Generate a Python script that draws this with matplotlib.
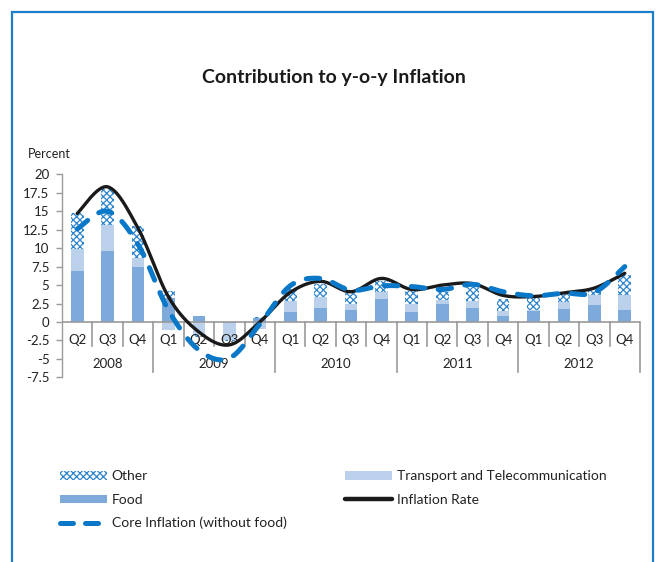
import numpy as np
import matplotlib
matplotlib.use("Agg")
import matplotlib.pyplot as plt
from matplotlib.patches import Rectangle, Patch
from matplotlib.lines import Line2D

# ---------------- data ----------------
quarters = ["Q2", "Q3", "Q4",
            "Q1", "Q2", "Q3", "Q4",
            "Q1", "Q2", "Q3", "Q4",
            "Q1", "Q2", "Q3", "Q4",
            "Q1", "Q2", "Q3", "Q4"]
years = ["2008", "2009", "2010", "2011", "2012"]
year_counts = [3, 4, 4, 4, 4]

food = [6.9, 9.65, 7.45, 3.2, 0.8, -0.2, 0.5, 1.3, 1.95, 1.6, 3.1,
        1.4, 2.4, 1.95, 0.85, 1.55, 1.75, 2.3, 1.6]
transport = [3.0, 3.55, 1.25, -1.1, -1.8, -2.2, -0.9, 1.55, 1.5, 0.8, 1.0,
             1.0, 0.6, 0.9, 0.7, 0.1, 0.9, 1.35, 2.05]
other = [4.8, 4.8, 4.3, 0.95, -0.2, -0.2, 0.2, 1.6, 1.75, 1.5, 1.5,
         1.8, 1.1, 1.95, 1.5, 1.55, 1.3, 0.7, 2.75]
inflation = [14.7, 18.3, 12.7, 3.4, -1.35, -3.1, 0.0, 4.0, 5.5, 4.1, 5.9,
             4.4, 5.0, 5.2, 3.6, 3.45, 3.95, 4.6, 6.6]
core = [12.6, 15.0, 10.5, 1.6, -3.8, -4.9, -0.3, 4.9, 5.9, 4.3, 4.9,
        4.8, 4.4, 5.1, 4.1, 3.55, 3.9, 4.0, 7.5]

yticks = [-7.5, -5, -2.5, 0, 2.5, 5, 7.5, 10, 12.5, 15, 17.5, 20]
ytick_labels = ["-7.5", "-5", "-2.5", "0", "2.5", "5", "7.5", "10",
                "12.5", "15", "17.5", "20"]

# ---------------- style ----------------
FONT = ["Lato", "DejaVu Sans"]
plt.rcParams["font.family"] = FONT
plt.rcParams["hatch.linewidth"] = 0.9

C_FOOD = "#7eaadb"
C_TRANS = "#bbd0ea"
C_OTHER = "#2f86cf"
C_CORE = "#0a78c8"
C_INF = "#1a1a1a"
C_AXIS = "#9a9a9a"
C_FRAME = "#1b7fc9"


def smooth(xs, ys, n=30):
    """Excel-like smoothed line (Catmull-Rom as cubic Bezier)."""
    p = np.column_stack([xs, ys]).astype(float)
    out = []
    m = len(p)
    for i in range(m - 1):
        p0 = p[i - 1] if i > 0 else p[i]
        p1 = p[i]
        p2 = p[i + 1]
        p3 = p[i + 2] if i + 2 < m else p[i + 1]
        c1 = p1 + (p2 - p0) / 6.0
        c2 = p2 - (p3 - p1) / 6.0
        t = np.linspace(0, 1, n, endpoint=(i == m - 2))[:, None]
        seg = ((1 - t) ** 3) * p1 + 3 * ((1 - t) ** 2) * t * c1 + \
            3 * (1 - t) * t ** 2 * c2 + t ** 3 * p2
        out.append(seg)
    out = np.vstack(out)
    return out[:, 0], out[:, 1]


W, H = 656, 562
fig = plt.figure(figsize=(W / 100, H / 100), dpi=100)

# frame
fig.add_artist(Rectangle((12 / W, -0.05), (653 - 12) / W, 1.05 - 12 / H,
                         transform=fig.transFigure, fill=False,
                         edgecolor=C_FRAME, linewidth=1.6))

ax = fig.add_axes([62 / W, 1 - 377.4 / H, (640 - 62) / W, (377.4 - 174.3) / H])
n = len(quarters)
x = np.arange(n)
ax.set_xlim(-0.5, n - 0.5)
ax.set_ylim(-7.5, 20)

# stacked bars (positive and negative stacked separately)
pos_base = np.zeros(n)
neg_base = np.zeros(n)
bw = 0.42
for vals, kw in [(food, dict(color=C_FOOD, linewidth=0)),
                 (transport, dict(color=C_TRANS, linewidth=0)),
                 (other, dict(facecolor="white", edgecolor=C_OTHER,
                              hatch="xxxxx", linewidth=0))]:
    v = np.array(vals, dtype=float)
    base = np.where(v >= 0, pos_base, neg_base)
    ax.bar(x, v, bw, bottom=base, zorder=2, **kw)
    pos_base = pos_base + np.where(v >= 0, v, 0)
    neg_base = neg_base + np.where(v < 0, v, 0)

# lines
sx, sy = smooth(x, inflation)
ax.plot(sx, sy, color=C_INF, lw=2.4, zorder=4, solid_capstyle="round")
cx, cy = smooth(x, core)
ax.plot(cx, cy, color=C_CORE, lw=3.6, zorder=5, dash_capstyle="round",
        dashes=(2.7, 2.7))

# axes styling
for s in ["top", "right", "bottom"]:
    ax.spines[s].set_visible(False)
ax.spines["left"].set_color(C_AXIS)
ax.spines["left"].set_linewidth(1.0)
ax.set_yticks(yticks)
ax.set_yticklabels(ytick_labels)
ax.tick_params(axis="y", direction="out", length=4, width=1.0,
               color=C_AXIS, labelsize=9.5, pad=5, labelcolor="#222222")
ax.set_xticks([])
ax.axhline(0, color=C_AXIS, lw=1.2, zorder=3)

# category separators and labels
bounds = np.arange(n + 1) - 0.5
year_bounds = set(np.cumsum([0] + year_counts))
for i, b in enumerate(bounds):
    if i == 0:
        continue
    y1 = -6.8 if i in year_bounds else -3.25
    ax.plot([b, b], [0, y1], color=C_AXIS, lw=1.2, clip_on=False, zorder=3)
for i, q in enumerate(quarters):
    ax.text(x[i], -2.4, q, ha="center", va="center", fontsize=9.5,
            color="#222222")
start = 0
for yr, cnt in zip(years, year_counts):
    ax.text(start + (cnt - 1) / 2, -5.7, yr, ha="center", va="center",
            fontsize=9.5, color="#222222")
    start += cnt

# texts
fig.text(28 / W, 1 - 154 / H, "Percent", ha="left", va="center", fontsize=9,
         color="#222222")
fig.text(334 / W, 1 - 78 / H, "Contribution to y-o-y Inflation", ha="center",
         va="center", fontsize=14, fontweight="bold", color="#1a1a1a")

# legend
h_other = Patch(facecolor="white", edgecolor=C_OTHER, hatch="xxxxx",
                linewidth=0)
h_food = Patch(facecolor=C_FOOD, linewidth=0)
h_trans = Patch(facecolor=C_TRANS, linewidth=0)
h_core = Line2D([], [], color=C_CORE, lw=3.6, dashes=(2.6, 2.4),
                dash_capstyle="round")
h_inf = Line2D([], [], color=C_INF, lw=3.2, solid_capstyle="round")

common = dict(frameon=False, prop={"size": 10},
              borderpad=0, borderaxespad=0,
              handlelength=3.4, handleheight=0.55, handletextpad=0.32,
              labelspacing=0.8, loc="upper left", labelcolor="#222222")
fig.legend([h_other, h_food, h_core],
           ["Other", "Food", "Core Inflation (without food)"],
           bbox_to_anchor=(60 / W, 1 - 470.5 / H), **common)
fig.legend([h_trans, h_inf],
           ["Transport and Telecommunication", "Inflation Rate"],
           bbox_to_anchor=(345 / W, 1 - 470.5 / H), **common)

fig.savefig("out.png", dpi=100)
